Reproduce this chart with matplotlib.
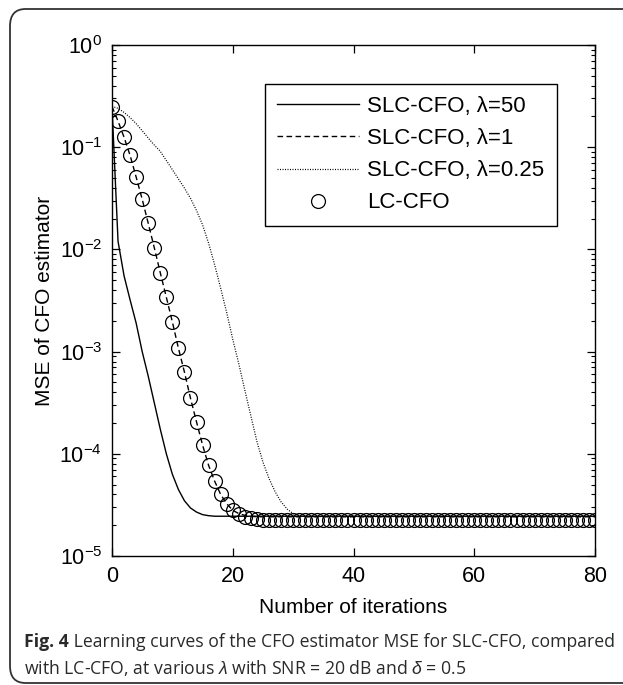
import numpy as np
import matplotlib.pyplot as plt
from matplotlib.patches import FancyBboxPatch

plt.rcParams['font.family'] = ['Liberation Sans', 'DejaVu Sans']
plt.rcParams['mathtext.fontset'] = 'custom'
plt.rcParams['mathtext.rm'] = 'Liberation Sans'
plt.rcParams['mathtext.it'] = 'Liberation Sans:italic'
plt.rcParams['mathtext.bf'] = 'Liberation Sans:bold'

# MSE per iteration (0..80)
iterations = np.arange(0, 81)

mse_slc_50 = [0.25, 0.012, 0.0055, 0.0032, 0.0019, 0.001, 5.75e-4, 3.16e-4,
              1.74e-4, 1.0e-4, 6.3e-5, 4.47e-5, 3.47e-5, 2.95e-5, 2.69e-5,
              2.54e-5, 2.48e-5] + [2.45e-5] * 64

mse_slc_1 = [0.25, 0.18, 0.125, 0.083, 0.051, 0.031, 0.018, 0.0104, 0.0059,
             0.0034, 0.00195, 0.00108, 6.3e-4, 3.5e-4, 2.05e-4, 1.22e-4,
             7.7e-5, 5.4e-5, 4.0e-5, 3.25e-5, 2.8e-5, 2.6e-5, 2.5e-5,
             2.45e-5] + [2.42e-5] * 57

mse_slc_025 = [0.251, 0.240, 0.219, 0.195, 0.170, 0.145, 0.123, 0.105, 0.0912,
               0.0741, 0.0603, 0.0490, 0.0398, 0.0316, 0.0240, 0.0174, 0.0115,
               0.00708, 0.00417, 0.0024, 0.00132, 7.6e-4, 4.2e-4, 2.35e-4,
               1.32e-4, 8.3e-5, 5.75e-5, 4.27e-5, 3.39e-5, 2.88e-5, 2.6e-5,
               2.48e-5] + [2.43e-5] * 49

mse_lc = [0.25, 0.18, 0.125, 0.083, 0.051, 0.031, 0.018, 0.0104, 0.0059,
          0.0034, 0.00195, 0.00108, 6.3e-4, 3.5e-4, 2.05e-4, 1.22e-4, 7.7e-5,
          5.4e-5, 4.0e-5, 3.25e-5, 2.8e-5, 2.55e-5, 2.42e-5, 2.35e-5, 2.3e-5,
          2.27e-5] + [2.25e-5] * 55

W, H = 623, 685
fig = plt.figure(figsize=(W / 100, H / 100), dpi=100)
ax = fig.add_axes([112 / W, 1 - 556 / H, (595 - 112) / W, (556 - 45) / H])

ax.plot(iterations, mse_slc_50, '-', color='black', lw=1.0, label='SLC-CFO, λ=50')
ax.plot(iterations, mse_slc_1, '--', color='black', lw=1.0, dashes=(4, 2.5),
        label='SLC-CFO, λ=1')
ax.plot(iterations, mse_slc_025, ':', color='black', lw=0.9, dashes=(0.8, 1.2),
        label='SLC-CFO, λ=0.25')
ax.plot(iterations, mse_lc, 'o', color='black', mfc='none', ms=10, mew=0.9,
        label='LC-CFO')

ax.set_yscale('log')
ax.set_xlim(0, 80)
ax.set_ylim(1e-5, 1)
ax.set_xticks([0, 20, 40, 60, 80])
ax.tick_params(which='both', direction='in', top=True, right=True, labelsize=15.5)
ax.tick_params(which='major', length=6, width=0.9, pad=7)
ax.tick_params(which='minor', length=3, width=0.8)
ax.tick_params(axis='x', which='minor', bottom=False, top=False)
for s in ax.spines.values():
    s.set_linewidth(1.0)

ax.set_xlabel('Number of iterations', fontsize=15, labelpad=8)
ax.set_ylabel('MSE of CFO estimator', fontsize=15, labelpad=4)

leg = ax.legend(loc='upper right', bbox_to_anchor=(0.921, 0.924), fontsize=16,
                fancybox=False, framealpha=1, edgecolor='black',
                handlelength=3.65, handletextpad=0.4, borderpad=0.55,
                labelspacing=0.5, borderaxespad=0)
leg.get_frame().set_linewidth(1.0)

# caption below the plot
cap_color = '#2a2a2a'
fig_label = fig.text(24 / W, 1 - 647 / H, 'Fig. 4', fontsize=12.7, fontweight='bold',
                     family='Open Sans', color=cap_color, va='baseline')
ax.annotate(' Learning curves of the CFO estimator MSE for SLC-CFO, compared',
            xy=(1, 0), xycoords=fig_label, fontsize=12.7, family='Open Sans',
            color=cap_color, va='bottom', annotation_clip=False)
fig.text(24 / W, 1 - 674 / H,
         r'with LC-CFO, at various $\lambda$ with SNR = 20 dB and $\delta$ = 0.5',
         fontsize=12.7, family='Open Sans', color=cap_color, va='baseline')

# rounded frame around the figure
frame = FancyBboxPatch((10 / W, 2 / H), 700 / W, (676 - 2) / H,
                       boxstyle='round,pad=0,rounding_size=0.025',
                       transform=fig.transFigure, fill=False,
                       edgecolor='#333333', lw=1.3, clip_on=False)
fig.patches.append(frame)

fig.savefig('out.png', dpi=100)
